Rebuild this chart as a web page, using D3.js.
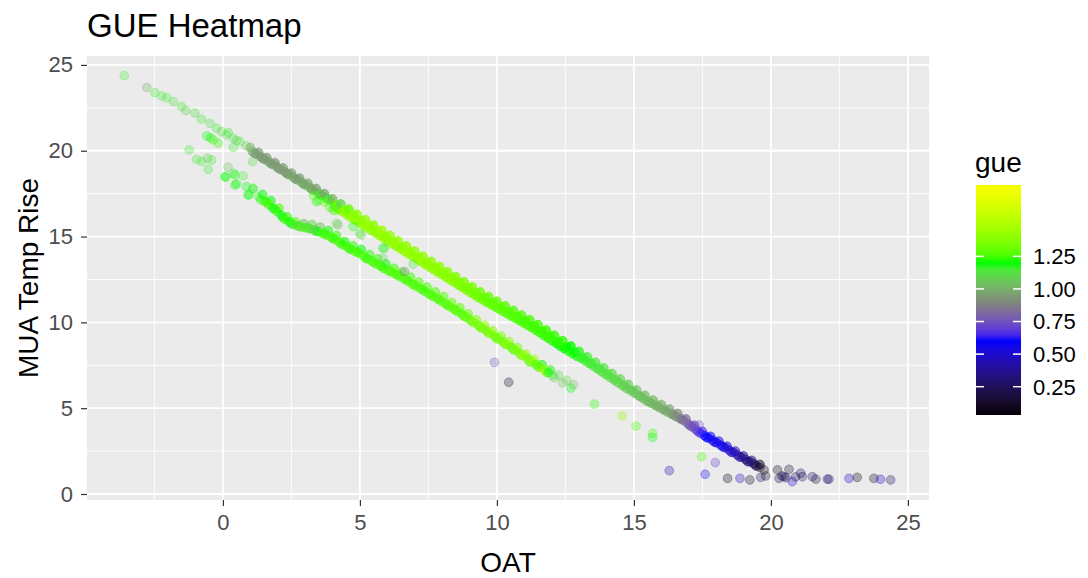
<!DOCTYPE html>
<html>
<head>
<meta charset="utf-8">
<script src="https://cdn.jsdelivr.net/npm/d3@7"></script>
<style>
  body { margin: 0; background: #fff; }
  text { font-family: "Liberation Sans", Arial, sans-serif; }
</style>
</head>
<body>
<div id="chart"></div>
<script>
// Chart data: [OAT, MUA temp rise, gue]
const upperBand = [
  [1.00,20.18,1.02],[1.15,19.85,0.96],[1.30,19.90,0.95],[1.45,19.55,0.94],[1.60,19.60,0.95],[1.75,19.25,0.96],
  [1.90,19.30,0.94],[2.05,18.95,0.95],[2.20,19.00,0.95],[2.35,18.65,0.94],[2.50,18.70,0.96],[2.65,18.35,0.95],
  [2.80,18.40,0.94],[2.95,18.05,0.95],[3.10,18.10,0.97],[3.25,17.75,0.95],[3.40,17.80,0.95],[3.55,17.45,1.05],
  [3.70,17.50,0.96],[3.85,17.15,1.15],[4.00,17.20,1.0],[4.15,16.85,1.3],[4.30,16.90,1.1],[4.45,16.54,1.38],
  [4.60,16.59,1.3],[4.75,16.24,1.4],[4.90,16.29,1.38],[5.05,15.93,1.41],[5.20,15.98,1.4],[5.35,15.62,1.42],
  [5.50,15.67,1.4],[5.65,15.32,1.41],[5.80,15.36,1.43],[5.95,15.01,1.4],[6.10,15.06,1.41],[6.25,14.70,1.41],
  [6.40,14.75,1.42],[6.55,14.40,1.4],[6.70,14.45,1.41],[6.85,14.10,1.41],[7.00,14.15,1.4],[7.15,13.80,1.42],
  [7.30,13.85,1.41],[7.45,13.50,1.4],[7.60,13.55,1.41],[7.75,13.20,1.39],[7.90,13.26,1.4],[8.05,12.91,1.39],
  [8.20,12.96,1.38],[8.35,12.61,1.38],[8.50,12.66,1.37],[8.65,12.31,1.36],[8.80,12.36,1.35],[8.95,12.02,1.35],
  [9.10,12.07,1.34],[9.25,11.72,1.33],[9.40,11.77,1.32],[9.55,11.43,1.31],[9.70,11.50,1.3],[9.85,11.16,1.3],
  [10.00,11.23,1.29],[10.15,10.89,1.28],[10.30,10.96,1.28],[10.45,10.62,1.27],[10.60,10.69,1.26],[10.75,10.35,1.26],
  [10.90,10.42,1.26],[11.05,10.08,1.25],[11.20,10.15,1.25],[11.35,9.81,1.24],[11.50,9.86,1.24],[11.65,9.50,1.24],
  [11.80,9.55,1.23],[11.95,9.19,1.24],[12.10,9.24,1.23],[12.25,8.88,1.22],[12.40,8.93,1.22],[12.55,8.57,1.21],
  [12.70,8.62,1.2],[12.85,8.26,1.2],[13.00,8.31,1.18],[13.15,7.95,1.18],[13.30,7.99,1.16],[13.45,7.63,1.16],
  [13.60,7.67,1.15],[13.75,7.31,1.14],[13.90,7.35,1.13],[14.05,6.99,1.13],[14.20,7.02,1.12],[14.35,6.66,1.11],
  [14.50,6.70,1.1],[14.65,6.34,1.09],[14.80,6.38,1.08],[14.95,6.02,1.07],[15.10,6.06,1.06],[15.25,5.70,1.05],
  [15.40,5.75,1.04],[15.55,5.39,1.03],[15.70,5.47,1.02],[15.85,5.14,1.01],[16.00,5.21,1.0],[16.15,4.88,0.99],
  [16.30,4.95,0.97],[16.45,4.62,0.94],[16.60,4.69,0.9],[16.75,4.35,0.86],[16.90,4.37,0.82],[17.05,3.98,0.78],
  [17.20,4.00,0.74],[17.35,3.62,0.68],[17.50,3.64,0.62],[17.65,3.30,0.6],[17.80,3.36,0.58],[17.95,3.02,0.57],
  [18.10,3.08,0.56],[18.25,2.74,0.55],[18.40,2.78,0.52],[18.55,2.44,0.5],[18.70,2.50,0.46],[18.85,2.16,0.42],
  [19.00,2.22,0.36],[19.15,1.89,0.3],[19.30,1.96,0.32],[19.45,1.65,0.25],[19.60,1.72,0.15]
]
// lower edge of the same band
const upperBandEdge = [
  [1.075,19.95,0.96],[1.225,19.80,0.95],[1.375,19.65,0.95],[1.525,19.50,0.95],[1.675,19.35,0.96],[1.825,19.20,0.95],
  [1.975,19.05,0.95],[2.125,18.90,0.96],[2.275,18.75,0.95],[2.425,18.60,0.98],[2.575,18.45,1.05],[2.725,18.30,1.02],
  [2.875,18.15,1.05],[3.025,18.00,1.08],[3.175,17.85,1.05],[3.325,17.70,1.1],[3.475,17.55,1.18],[3.625,17.40,1.22],
  [3.775,17.25,1.2],[3.925,17.10,1.25],[4.075,16.75,1.25],[4.225,16.60,1.3],[4.375,16.45,1.38],[4.525,16.28,1.4],
  [4.675,16.12,1.4],[4.825,15.97,1.41],[4.975,15.82,1.4],[5.125,15.66,1.42],[5.275,15.51,1.4],[5.425,15.36,1.41],
  [5.575,15.21,1.4],[5.725,15.05,1.42],[5.875,14.90,1.41],[6.025,14.74,1.4],[6.175,14.59,1.42],[6.325,14.44,1.4],
  [6.475,14.29,1.41],[6.625,14.14,1.4],[6.775,13.99,1.42],[6.925,13.84,1.4],[7.075,13.69,1.41],[7.225,13.54,1.4],
  [7.375,13.39,1.4],[7.525,13.24,1.41],[7.675,13.09,1.39],[7.825,12.94,1.4],[7.975,12.80,1.38],[8.125,12.65,1.38],
  [8.275,12.50,1.37],[8.425,12.35,1.37],[8.575,12.20,1.36],[8.725,12.05,1.35],[8.875,11.90,1.34],[9.025,11.75,1.34],
  [9.175,11.60,1.33],[9.325,11.45,1.32],[9.475,11.32,1.31],[9.625,11.18,1.3],[9.775,11.05,1.3],[9.925,10.91,1.29],
  [10.075,10.78,1.28],[10.225,10.64,1.28],[10.375,10.51,1.27],[10.525,10.37,1.26],[10.675,10.24,1.26],[10.825,10.10,1.25],
  [10.975,9.97,1.25],[11.125,9.83,1.25],[11.275,9.70,1.24],[11.425,9.54,1.24],[11.575,9.39,1.23],[11.725,9.23,1.23],
  [11.875,9.08,1.22],[12.025,8.92,1.22],[12.175,8.77,1.21],[12.325,8.61,1.2],[12.475,8.46,1.2],[12.625,8.31,1.19],
  [12.775,8.17,1.18],[12.925,8.02,1.18],[13.075,7.92,1.17],[13.225,7.76,1.16],[13.375,7.60,1.15],[13.525,7.44,1.15],
  [13.675,7.28,1.14],[13.825,7.12,1.13],[13.975,6.96,1.12],[14.125,6.80,1.12],[14.275,6.64,1.11],[14.425,6.48,1.1],
  [14.575,6.32,1.09],[14.725,6.16,1.08],[14.875,6.04,1.07],[15.025,5.88,1.06],[15.175,5.72,1.05],[15.325,5.57,1.04],
  [15.475,5.41,1.03],[15.625,5.30,1.02],[15.775,5.17,1.01],[15.925,5.04,1.0],[16.075,4.91,1.0],[16.225,4.78,0.98],
  [16.375,4.65,0.96],[16.525,4.52,0.92],[16.675,4.40,0.88],[16.825,4.27,0.84],[16.975,4.09,0.8],[17.125,3.91,0.76],
  [17.275,3.73,0.7],[17.425,3.55,0.64],[17.575,3.40,0.6],[17.725,3.26,0.59],[17.875,3.12,0.58],[18.025,2.98,0.56],
  [18.175,2.84,0.55],[18.325,2.70,0.53],[18.475,2.56,0.5],[18.625,2.42,0.47],[18.775,2.28,0.44],[18.925,2.15,0.4],
  [19.075,2.01,0.34],[19.225,1.88,0.3],[19.375,1.76,0.26]
]
// how many observations pile up on each upper-band mark: [OAT up to, count]
const upperDensity = [[1.2, 2], [4.1, 3], [9.4, 4], [13.1, 4], [15.5, 3], [17.3, 3], [20, 2]]

const lowerBand = [
  [0.95,17.45,1.2],[1.10,17.75,1.15],[1.30,17.30,1.22],[1.45,17.45,1.2],[1.60,17.00,1.25],[1.75,17.10,1.2],
  [1.90,16.60,1.22],[2.05,16.65,1.25],[2.20,16.10,1.2],[2.35,16.15,1.22],[2.50,15.75,1.1],[2.65,15.85,1.25],
  [2.80,15.60,1.22],[2.95,15.75,1.05],[3.10,15.50,1.25],[3.25,15.70,1.1],[3.40,15.30,1.22],[3.55,15.55,1.05],
  [3.70,15.15,1.25],[3.85,15.35,1.2],[4.00,14.90,1.25],[4.15,15.05,1.22],[4.30,14.60,1.25],[4.45,14.70,1.2],
  [4.60,14.30,1.25],[4.75,14.45,1.22],[4.90,14.10,1.25],[5.05,14.25,1.2],[5.20,13.75,1.26],[5.35,13.95,1.22],
  [5.50,13.50,1.25],[5.65,13.70,1.23],[5.80,13.25,1.25],[5.95,13.40,1.2],[6.10,13.00,1.26],[6.25,13.15,1.24],
  [6.40,12.75,1.25],[6.55,12.93,1.25],[6.70,12.47,1.26],[6.85,12.63,1.24],[7.00,12.18,1.25],[7.15,12.35,1.26],
  [7.30,11.90,1.25],[7.45,12.05,1.24],[7.60,11.60,1.26],[7.75,11.77,1.25],[7.90,11.33,1.25],[8.05,11.50,1.27],
  [8.20,11.00,1.25],[8.35,11.15,1.3],[8.50,10.70,1.26],[8.65,10.85,1.28],[8.80,10.37,1.25],[8.95,10.50,1.3],
  [9.10,10.03,1.28],[9.25,10.15,1.35],[9.40,9.69,1.3],[9.55,9.83,1.4],[9.70,9.37,1.3],[9.85,9.51,1.38],
  [10.00,9.05,1.28],[10.15,9.20,1.35],[10.30,8.73,1.3],[10.45,8.87,1.42],[10.60,8.41,1.28],[10.75,8.53,1.35],
  [10.90,8.07,1.3],[11.05,8.15,1.4],[11.20,7.70,1.25],[11.35,7.85,1.45],[11.50,7.40,1.3],[11.65,7.53,1.2],
  [11.80,7.09,1.42],[11.95,7.23,1.15],[12.10,6.77,1.1],[12.25,6.93,1.12],[12.40,6.47,1.05],[12.55,6.63,1.1],
  [12.70,6.17,1.2],[12.80,6.37,1.05]
]
const lowerBandMid = [
  [1.375,17.15,1.2],[1.525,17.05,1.22],[1.675,16.85,1.25],[1.825,16.65,1.2],[1.975,16.45,1.22],[2.125,16.25,1.2],
  [2.275,16.00,1.25],[2.425,15.85,1.2],[2.575,15.70,1.22],[2.725,15.62,1.1],[2.875,15.55,1.25],[3.025,15.52,1.1],
  [3.175,15.45,1.22],[3.325,15.40,1.05],[3.475,15.30,1.2],[3.625,15.20,1.25],[3.775,15.10,1.22],[3.925,14.98,1.25],
  [4.075,14.85,1.22],[4.225,14.70,1.25],[4.375,14.52,1.22],[4.525,14.42,1.25],[4.675,14.25,1.22],[4.825,14.12,1.25],
  [4.975,14.02,1.24],[5.125,13.88,1.25],[5.275,13.70,1.22],[5.425,13.58,1.25],[5.575,13.42,1.24],[5.725,13.30,1.25],
  [5.875,13.15,1.22],[6.025,13.02,1.25],[6.175,12.90,1.26],[6.325,12.78,1.24],[6.475,12.65,1.25],[6.625,12.52,1.26],
  [6.775,12.38,1.25],[6.925,12.22,1.24],[7.075,12.08,1.26],[7.225,11.95,1.25],[7.375,11.80,1.24],[7.525,11.65,1.26],
  [7.675,11.50,1.25],[7.825,11.38,1.25],[7.975,11.22,1.27],[8.125,11.08,1.25],[8.275,10.92,1.28],[8.425,10.78,1.26],
  [8.575,10.62,1.3],[8.725,10.48,1.25],[8.875,10.30,1.3],[9.025,10.15,1.28],[9.175,9.98,1.4],[9.325,9.82,1.3],
  [9.475,9.66,1.35],[9.625,9.50,1.3],[9.775,9.34,1.42],[9.925,9.18,1.28],[10.075,9.02,1.35],[10.225,8.86,1.3],
  [10.375,8.70,1.4],[10.525,8.55,1.28],[10.675,8.38,1.35],[10.825,8.20,1.3],[10.975,8.05,1.45],[11.125,7.88,1.3],
  [11.275,7.72,1.4],[11.425,7.55,1.25],[11.575,7.40,1.3],[11.725,7.25,1.42],[11.875,7.08,1.2],[12.025,6.92,1.15]
]
const lowerDensity = [[1.4, 1], [2.4, 2], [9.0, 2], [12.0, 2], [13, 1]]

const leftPoints = [
  [-3.60,24.38,1.15],[-2.78,23.68,1.02],[-2.48,23.39,1.15],[-2.23,23.19,1.15],[-2.05,23.09,1.15],[-1.81,22.86,1.12],
  [-1.51,22.57,1.15],[-1.35,22.34,1.1],[-1.02,22.19,1.12],[-0.78,21.84,1.15],[-0.47,21.60,1.12],[-0.23,21.31,1.15],
  [-0.05,21.11,1.12],[0.13,20.92,1.15],[0.38,20.73,1.12],[0.62,20.53,1.15],[0.86,20.28,1.1],[0.20,21.05,1.15],
  [0.50,20.60,1.12],[-0.59,20.86,1.2],[-0.35,20.63,1.25],[-0.17,20.44,1.22],[-0.45,20.75,1.2],[0.38,20.20,1.15],
  [1.08,19.36,1.1],[-1.23,20.05,1.15],[-0.96,19.50,1.15],[-0.78,19.37,1.15],[-0.57,19.56,1.1],[-0.41,19.46,1.15],
  [-0.54,18.92,1.15],[0.19,19.04,1.05],[0.11,18.46,1.2],[0.38,18.69,1.15],[0.50,18.07,1.2],[0.74,18.53,1.15],
  [0.92,17.42,1.2],[1.10,17.81,1.2],[0.86,17.91,1.2],[0.44,18.59,1.2],[0.07,18.49,1.2],[0.44,18.01,1.2]
]

const midPoints = [
  [3.41,17.03,1.2],[4.02,16.55,1.15],[4.14,15.77,1.1],[4.75,15.58,1.2],[4.99,15.19,1.15],[5.84,14.32,1.2],
  [4.20,15.68,1.05],[5.05,15.09,1.1],[5.90,14.32,1.15],[5.84,13.74,1.1],[6.94,13.39,1.15],[6.63,12.96,0.85],
  [3.30,17.40,1.25],[3.50,17.10,1.22],[3.70,17.00,1.28],[3.90,16.70,1.25],[4.10,16.50,1.3],
  [9.91,7.67,0.75],[10.43,6.51,0.15],[13.56,5.24,1.22],[14.57,4.55,1.4],[15.08,3.96,1.25],[15.68,3.54,1.25],
  [15.68,3.30,1.2],[16.29,1.36,0.45],[17.47,2.17,1.25],[17.97,1.83,0.7],[17.60,1.15,0.55],[17.38,4.02,0.75]
]

const tailPoints = [
  [18.42,0.91,0.1],[18.87,0.91,0.45],[19.23,0.82,0.12],[19.63,0.97,0.3],[19.81,1.05,0.15],[19.75,1.40,0.1],
  [20.24,1.40,0.1],[20.30,0.91,0.25],[20.48,1.01,0.2],[20.66,1.44,0.15],[20.78,0.72,0.5],[21.09,1.21,0.3],
  [21.15,1.01,0.25],[21.51,1.01,0.3],[21.64,0.87,0.2],[22.06,0.87,0.28],[22.12,0.86,0.3],[22.85,0.91,0.5],
  [23.15,0.97,0.1],[23.76,0.91,0.12],[24.00,0.86,0.5],[24.37,0.82,0.25],[20.40,1.05,0.22],[20.55,0.95,0.28],
  [20.90,1.00,0.25],[19.50,1.62,0.2],[19.60,1.55,0.1]
]

const xTicks = [0, 5, 10, 15, 20, 25]
const yTicks = [0, 5, 10, 15, 20, 25]
const legendTicks = [0.25, 0.5, 0.75, 1.0, 1.25]
const gueStops = [0.033, 0.6, 0.88, 1.2, 1.797]
const gueColors = ['#000000', '#0000ff', '#808080', '#00ff00', '#ffff00']

const width = 1088,
  height = 578,
  panel = { left: 87, right: 929, top: 56, bottom: 500 },
  alpha = 0.3

const svg = d3.select('#chart')
  .append('svg')
  .attr('width', width)
  .attr('height', height)

const xScale = d3.scaleLinear().domain([-4.96, 25.77]).range([panel.left, panel.right])
const yScale = d3.scaleLinear().domain([-0.35, 25.52]).range([panel.bottom, panel.top])
const colorScale = d3.scaleLinear().domain(gueStops).range(gueColors).interpolate(d3.interpolateLab)

// panel background
svg.append('rect')
  .attr('x', panel.left).attr('y', panel.top)
  .attr('width', panel.right - panel.left).attr('height', panel.bottom - panel.top)
  .attr('fill', '#ebebeb')

const grid = svg.append('g')
const minorX = [-2.5, 2.5, 7.5, 12.5, 17.5, 22.5]
const minorY = [2.5, 7.5, 12.5, 17.5, 22.5]

grid.selectAll('.mx').data(minorX).enter().append('line')
  .attr('x1', d => xScale(d)).attr('x2', d => xScale(d))
  .attr('y1', panel.top).attr('y2', panel.bottom)
  .attr('stroke', '#fff').attr('stroke-width', 0.9)
grid.selectAll('.my').data(minorY).enter().append('line')
  .attr('y1', d => yScale(d)).attr('y2', d => yScale(d))
  .attr('x1', panel.left).attr('x2', panel.right)
  .attr('stroke', '#fff').attr('stroke-width', 0.9)
grid.selectAll('.gx').data(xTicks).enter().append('line')
  .attr('x1', d => xScale(d)).attr('x2', d => xScale(d))
  .attr('y1', panel.top).attr('y2', panel.bottom)
  .attr('stroke', '#fff').attr('stroke-width', 1.8)
grid.selectAll('.gy').data(yTicks).enter().append('line')
  .attr('y1', d => yScale(d)).attr('y2', d => yScale(d))
  .attr('x1', panel.left).attr('x2', panel.right)
  .attr('stroke', '#fff').attr('stroke-width', 1.8)

// stacked opacity for marks that stand for several overlapping observations
const countFor = (table, x) => {
  const hit = table.find(d => x <= d[0])
  return hit ? hit[1] : 1
}
const withCount = (rows, table) => rows.map(d => [d[0], d[1], d[2], countFor(table, d[0])])
const single = rows => rows.map(d => [d[0], d[1], d[2], 1])

const allPoints = single(leftPoints).concat(
  withCount(lowerBand, lowerDensity),
  withCount(lowerBandMid, lowerDensity),
  withCount(upperBandEdge, upperDensity),
  withCount(upperBand, upperDensity),
  single(midPoints),
  single(tailPoints)
)

svg.append('g')
  .selectAll('circle')
  .data(allPoints)
  .enter()
  .append('circle')
  .attr('cx', d => xScale(d[0]))
  .attr('cy', d => yScale(d[1]))
  .attr('r', 4.4)
  .attr('fill', d => colorScale(d[2]))
  .attr('fill-opacity', d => 1 - Math.pow(1 - alpha, d[3]))
  .attr('stroke', d => colorScale(d[2]))
  .attr('stroke-opacity', d => 1 - Math.pow(1 - alpha, d[3]))
  .attr('stroke-width', 1)

// axes
const xAxis = d3.axisBottom(xScale).tickValues(xTicks).tickSize(6).tickPadding(8)
const yAxis = d3.axisLeft(yScale).tickValues(yTicks).tickSize(6).tickPadding(8)

const gx = svg.append('g')
  .attr('transform', `translate(0, ${panel.bottom})`)
  .call(xAxis)
const gy = svg.append('g')
  .attr('transform', `translate(${panel.left}, 0)`)
  .call(yAxis)

;[gx, gy].forEach(g => {
  g.select('.domain').remove()
  g.selectAll('line').attr('stroke', '#333').attr('stroke-width', 1.2)
  g.selectAll('text')
    .attr('fill', '#4d4d4d')
    .style('font-size', '22px')
    .style('font-family', '"Liberation Sans", Arial, sans-serif')
})

// titles
svg.append('text')
  .attr('x', 87).attr('y', 37)
  .style('font-size', '33px')
  .attr('fill', '#000')
  .text('GUE Heatmap')

svg.append('text')
  .attr('x', (panel.left + panel.right) / 2).attr('y', 572)
  .attr('text-anchor', 'middle')
  .style('font-size', '28px')
  .text('OAT')

svg.append('text')
  .attr('transform', `translate(38, ${(panel.top + panel.bottom) / 2}) rotate(-90)`)
  .attr('text-anchor', 'middle')
  .style('font-size', '28px')
  .text('MUA Temp Rise')

// legend
const legend = { x: 976, w: 45, top: 185, bottom: 415 }
const legendScale = d3.scaleLinear().domain([0.033, 1.797]).range([legend.bottom, legend.top])

const grad = svg.append('defs').append('linearGradient')
  .attr('id', 'gueGrad')
  .attr('x1', 0).attr('y1', 1).attr('x2', 0).attr('y2', 0)
grad.selectAll('stop').data(legendScale.ticks(40)).enter().append('stop')
  .attr('offset', d => (d - 0.033) / (1.797 - 0.033))
  .attr('stop-color', d => colorScale(d))

svg.append('rect')
  .attr('x', legend.x).attr('y', legend.top)
  .attr('width', legend.w).attr('height', legend.bottom - legend.top)
  .attr('fill', 'url(#gueGrad)')

const lt = svg.append('g')
lt.selectAll('.tl').data(legendTicks).enter().append('line')
  .attr('x1', legend.x).attr('x2', legend.x + 8)
  .attr('y1', d => legendScale(d)).attr('y2', d => legendScale(d))
  .attr('stroke', '#fff').attr('stroke-width', 1.5)
lt.selectAll('.tr').data(legendTicks).enter().append('line')
  .attr('x1', legend.x + legend.w - 8).attr('x2', legend.x + legend.w)
  .attr('y1', d => legendScale(d)).attr('y2', d => legendScale(d))
  .attr('stroke', '#fff').attr('stroke-width', 1.5)
lt.selectAll('text').data(legendTicks).enter().append('text')
  .attr('x', 1033)
  .attr('y', d => legendScale(d))
  .attr('dy', '0.36em')
  .style('font-size', '22px')
  .attr('fill', '#000')
  .text(d => d.toFixed(2))

svg.append('text')
  .attr('x', 975).attr('y', 172)
  .style('font-size', '28px')
  .text('gue')
</script>
</body>
</html>
